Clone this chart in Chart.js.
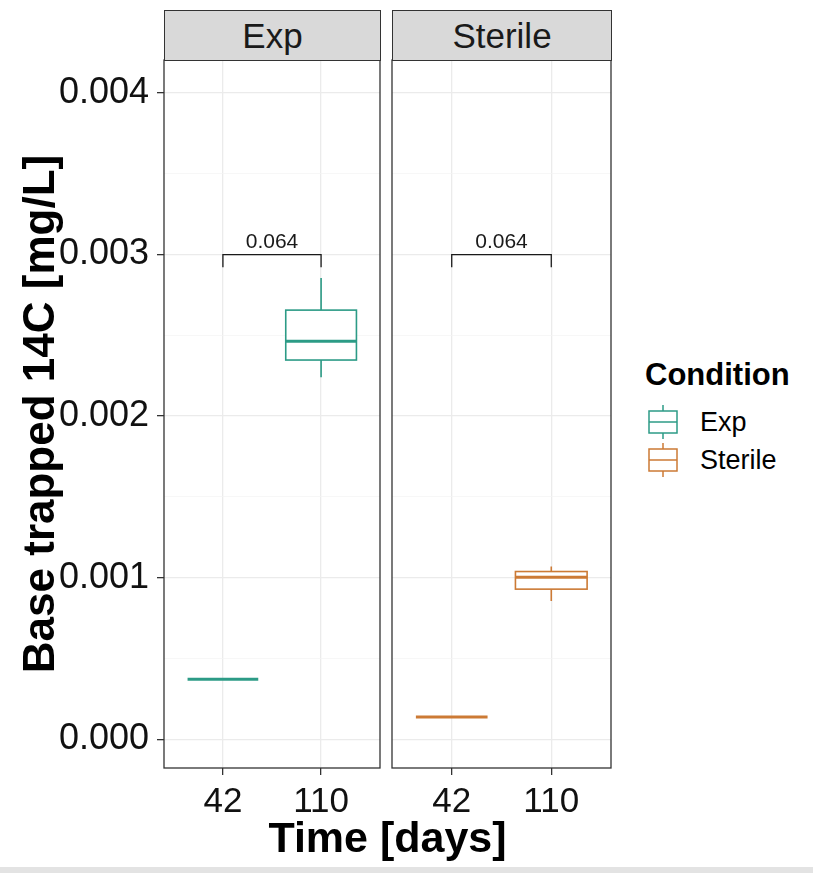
<!DOCTYPE html>
<html>
<head>
<meta charset="utf-8">
<script src="https://cdn.jsdelivr.net/npm/chart.js@4.4.1/dist/chart.umd.min.js"></script>
<style>
  body { margin: 0; background: #fff; font-family: "Liberation Sans", Arial, sans-serif; }
  #wrap { position: relative; width: 813px; height: 873px; overflow: hidden; background: #fff; }
  canvas { position: absolute; top: 0; }
  .strip { position: absolute; top: 10px; height: 51px; box-sizing: border-box; background: #D9D9D9;
           border: 1.2px solid #333; text-align: center; line-height: 49px; font-size: 35px; color: #1a1a1a; }
  #xtitle { position: absolute; left: 164px; width: 447px; top: 813px; text-align: center;
            font-size: 43px; font-weight: bold; color: #000; line-height: 48px; }
  #legend { position: absolute; left: 645px; top: 357px; color: #000; }
  #legend .ttl { font-size: 31px; font-weight: bold; line-height: 36px; margin-bottom: 10px; }
  #legend .item { position: relative; height: 38px; font-size: 27px; line-height: 38px; padding-left: 55px; }
  #legend svg { position: absolute; left: 3px; top: 2px; }
  #bottomband { position: absolute; left: 0; top: 867px; width: 813px; height: 6px; background: #E3E3E3; }
</style>
</head>
<body>
<div id="wrap">
  <canvas id="panelExp" width="382" height="830" style="left:0"></canvas>
  <canvas id="panelSterile" width="223" height="830" style="left:390px"></canvas>
  <div class="strip" style="left:164px;width:217px">Exp</div>
  <div class="strip" style="left:392px;width:220px">Sterile</div>
  <div id="xtitle">Time [days]</div>
  <div id="legend">
    <div class="ttl">Condition</div>
    <div id="legendItems"></div>
  </div>
  <div id="bottomband"></div>
</div>
<script>
// categories on the x axis (Time [days]) and facets / conditions
const categories = ['42', '110'];
const conditions = ['Exp', 'Sterile'];
const colors = ['#2C9B86', '#CC7A35'];

// box statistics, one value per time category (mg/L)
const expMin    = [0.000371, 0.002241];
const expQ1     = [0.000371, 0.002347];
const expMedian = [0.000371, 0.002464];
const expQ3     = [0.000371, 0.002656];
const expMax    = [0.000371, 0.002854];

const sterileMin    = [0.000138, 0.000856];
const sterileQ1     = [0.000138, 0.000929];
const sterileMedian = [0.000138, 0.001003];
const sterileQ3     = [0.000138, 0.001038];
const sterileMax    = [0.000138, 0.001069];

// p-value bracket per panel
const pLabels = ['0.064', '0.064'];
const bracketY = 0.003;

// y axis
const yTicks = [0, 0.001, 0.002, 0.003, 0.004];
const yMinor = [0.0005, 0.0015, 0.0025, 0.0035];
const yMin = -0.000178;
const yMax = 0.004204;

const stats = [
  { min: expMin, q1: expQ1, med: expMedian, q3: expQ3, max: expMax },
  { min: sterileMin, q1: sterileQ1, med: sterileMedian, q3: sterileQ3, max: sterileMax }
];

const isMajor = v => yTicks.some(t => Math.abs(t - v) < 1e-9);

// draws boxplots, p-value bracket and the panel border from the chart scales
const boxPlugin = {
  id: 'boxes',
  afterDatasetsDraw(chart, args, opts) {
    const { ctx, chartArea } = chart;
    const xs = chart.scales.x, ys = chart.scales.y;
    const s = stats[opts.cond];
    const py = v => ys.getPixelForValue(v);
    ctx.save();
    ctx.beginPath();
    ctx.rect(chartArea.left, chartArea.top, chartArea.width, chartArea.height);
    ctx.clip();
    ctx.strokeStyle = colors[opts.cond];
    categories.forEach((c, i) => {
      const xc = xs.getPixelForValue(i + 1);
      const x0 = xs.getPixelForValue(i + 1 - 0.36);
      const x1 = xs.getPixelForValue(i + 1 + 0.36);
      ctx.lineWidth = 1.6;
      ctx.beginPath();
      ctx.moveTo(xc, py(s.q3[i])); ctx.lineTo(xc, py(s.max[i]));
      ctx.moveTo(xc, py(s.q1[i])); ctx.lineTo(xc, py(s.min[i]));
      ctx.stroke();
      if (s.q3[i] > s.q1[i]) {
        ctx.fillStyle = '#fff';
        ctx.fillRect(x0, py(s.q3[i]), x1 - x0, py(s.q1[i]) - py(s.q3[i]));
        ctx.strokeRect(x0, py(s.q3[i]), x1 - x0, py(s.q1[i]) - py(s.q3[i]));
      }
      ctx.lineWidth = 3;
      ctx.beginPath();
      ctx.moveTo(x0, py(s.med[i])); ctx.lineTo(x1, py(s.med[i]));
      ctx.stroke();
    });
    // bracket
    const bx0 = xs.getPixelForValue(1), bx1 = xs.getPixelForValue(2);
    const by = py(bracketY), byEnd = py(bracketY - 0.000078);
    ctx.strokeStyle = '#1a1a1a';
    ctx.lineWidth = 1.3;
    ctx.beginPath();
    ctx.moveTo(bx0, byEnd); ctx.lineTo(bx0, by); ctx.lineTo(bx1, by); ctx.lineTo(bx1, byEnd);
    ctx.stroke();
    ctx.fillStyle = '#1a1a1a';
    ctx.font = '21px "Liberation Sans", Arial, sans-serif';
    ctx.textAlign = 'center';
    ctx.textBaseline = 'alphabetic';
    ctx.fillText(pLabels[opts.cond], (bx0 + bx1) / 2, by - 7);
    ctx.restore();
    // panel border
    ctx.save();
    ctx.strokeStyle = '#333';
    ctx.lineWidth = 1.3;
    ctx.strokeRect(chartArea.left, chartArea.top, chartArea.width, chartArea.height);
    ctx.restore();
  }
};

function makePanel(canvasId, cond, showY) {
  const yScale = {
    type: 'linear',
    min: yMin,
    max: yMax,
    afterBuildTicks: axis => {
      axis.ticks = yTicks.concat(yMinor).sort((a, b) => a - b).map(v => ({ value: v }));
    },
    afterFit: scale => { scale.width = showY ? 164 : 0; },
    border: { display: false },
    grid: {
      color: ctx => isMajor(ctx.tick.value) ? '#EBEBEB' : '#F3F3F3',
      lineWidth: ctx => isMajor(ctx.tick.value) ? 1.3 : 0.7,
      tickColor: ctx => isMajor(ctx.tick.value) ? '#333' : 'rgba(0,0,0,0)',
      drawTicks: showY,
      tickLength: 7
    },
    ticks: {
      display: showY,
      autoSkip: false,
      padding: 8,
      color: '#111',
      font: { family: '"Liberation Sans", Arial, sans-serif', size: 36 },
      callback: v => isMajor(v) ? v.toFixed(3) : ''
    },
    title: {
      display: showY,
      text: 'Base trapped 14C [mg/L]',
      color: '#000',
      font: { family: '"Liberation Sans", Arial, sans-serif', size: 44, weight: 'bold' },
      padding: { top: 15, bottom: 0 }
    }
  };
  return new Chart(document.getElementById(canvasId).getContext('2d'), {
    type: 'scatter',
    data: {
      datasets: [{
        label: conditions[cond],
        data: categories.map((c, i) => ({ x: i + 1, y: stats[cond].med[i] })),
        pointRadius: 0,
        pointHoverRadius: 0
      }]
    },
    options: {
      responsive: false,
      animation: false,
      layout: { padding: { top: 60, right: 2, left: showY ? 0 : 2, bottom: 0 } },
      scales: {
        x: {
          type: 'linear',
          min: 0.4,
          max: 2.6,
          afterBuildTicks: axis => {
            axis.ticks = categories.map((c, i) => ({ value: i + 1 }));
          },
          afterFit: scale => { scale.height = 62; },
          border: { display: false },
          grid: { color: '#EBEBEB', lineWidth: 1.3, tickColor: '#333', tickLength: 7 },
          ticks: {
            padding: 6,
            color: '#111',
            font: { family: '"Liberation Sans", Arial, sans-serif', size: 35 },
            callback: v => categories[v - 1]
          }
        },
        y: yScale
      },
      plugins: {
        legend: { display: false },
        tooltip: { enabled: false },
        boxes: { cond: cond }
      }
    },
    plugins: [boxPlugin]
  });
}

makePanel('panelExp', 0, true);
makePanel('panelSterile', 1, false);

// legend keys
const items = document.getElementById('legendItems');
conditions.forEach((name, i) => {
  const c = colors[i];
  const div = document.createElement('div');
  div.className = 'item';
  div.innerHTML =
    '<svg width="30" height="34" viewBox="0 0 30 34">' +
    '<line x1="15" y1="0" x2="15" y2="6" stroke="' + c + '" stroke-width="1.5"/>' +
    '<rect x="1" y="6" width="28" height="22" fill="#fff" stroke="' + c + '" stroke-width="1.5"/>' +
    '<line x1="1" y1="17" x2="29" y2="17" stroke="' + c + '" stroke-width="1.5"/>' +
    '<line x1="15" y1="28" x2="15" y2="34" stroke="' + c + '" stroke-width="1.5"/>' +
    '</svg>' + name;
  items.appendChild(div);
});
</script>
</body>
</html>
